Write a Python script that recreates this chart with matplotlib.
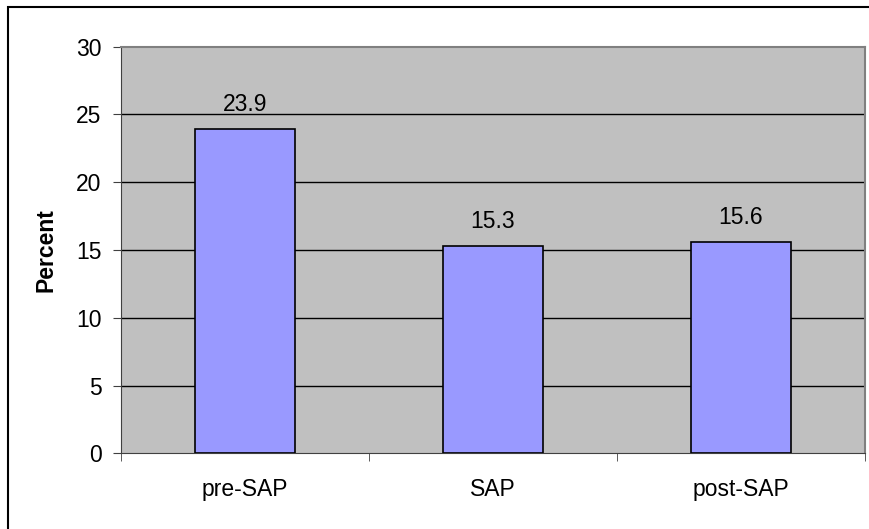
import matplotlib.pyplot as plt
from matplotlib.patches import Rectangle

categories = ['pre-SAP', 'SAP', 'post-SAP']
values = [23.9, 15.3, 15.6]
yticks = [0, 5, 10, 15, 20, 25, 30]

plt.rcParams['font.family'] = ['Liberation Sans', 'DejaVu Sans']
fs = 16.5

fig = plt.figure(figsize=(8.69, 5.29), dpi=100)
fig.patches.append(Rectangle((8 / 869, -0.1), 1.2, 1 - 7 / 529 + 0.1,
                             transform=fig.transFigure, fill=False,
                             edgecolor='black', linewidth=1.5))

ax = fig.add_axes([121 / 869, 1 - 453.3 / 529, 744 / 869, 406.6 / 529])
ax.set_facecolor('#C0C0C0')

x = range(len(categories))
ax.bar(x, values, width=0.4, color='#9999FF', edgecolor='black', linewidth=1.2, zorder=3)
for xi, v in zip(x, values):
    ax.annotate(f'{v}', (xi, v), xytext=(0, 13), textcoords='offset points',
                ha='center', va='baseline', fontsize=fs)

ax.set_xlim(-0.5, len(categories) - 0.5)
ax.set_ylim(0, 30)
ax.set_yticks(yticks)
ax.set_yticklabels([str(t) for t in yticks], fontsize=fs)
ax.set_xticks(x)
ax.set_xticklabels(categories, fontsize=fs)
ax.tick_params(axis='x', length=0, pad=18)
ax.set_xticks([i + 0.5 for i in range(-1, len(categories))], minor=True)
ax.tick_params(axis='x', which='minor', length=6, color='#404040')
ax.tick_params(axis='y', length=6, color='#404040', pad=8)

for t in yticks[1:-1]:
    ax.axhline(t, color='black', linewidth=1, zorder=1)

ax.spines['top'].set_color('#808080')
ax.spines['right'].set_color('#808080')
ax.spines['top'].set_linewidth(1.5)
ax.spines['right'].set_linewidth(1.5)
ax.spines['left'].set_color('#404040')
ax.spines['bottom'].set_color('#404040')

ax.set_ylabel('Percent', fontsize=fs, fontweight='bold')
ax.yaxis.set_label_coords(-0.086, 0.5)

fig.savefig('out.png', dpi=100)
